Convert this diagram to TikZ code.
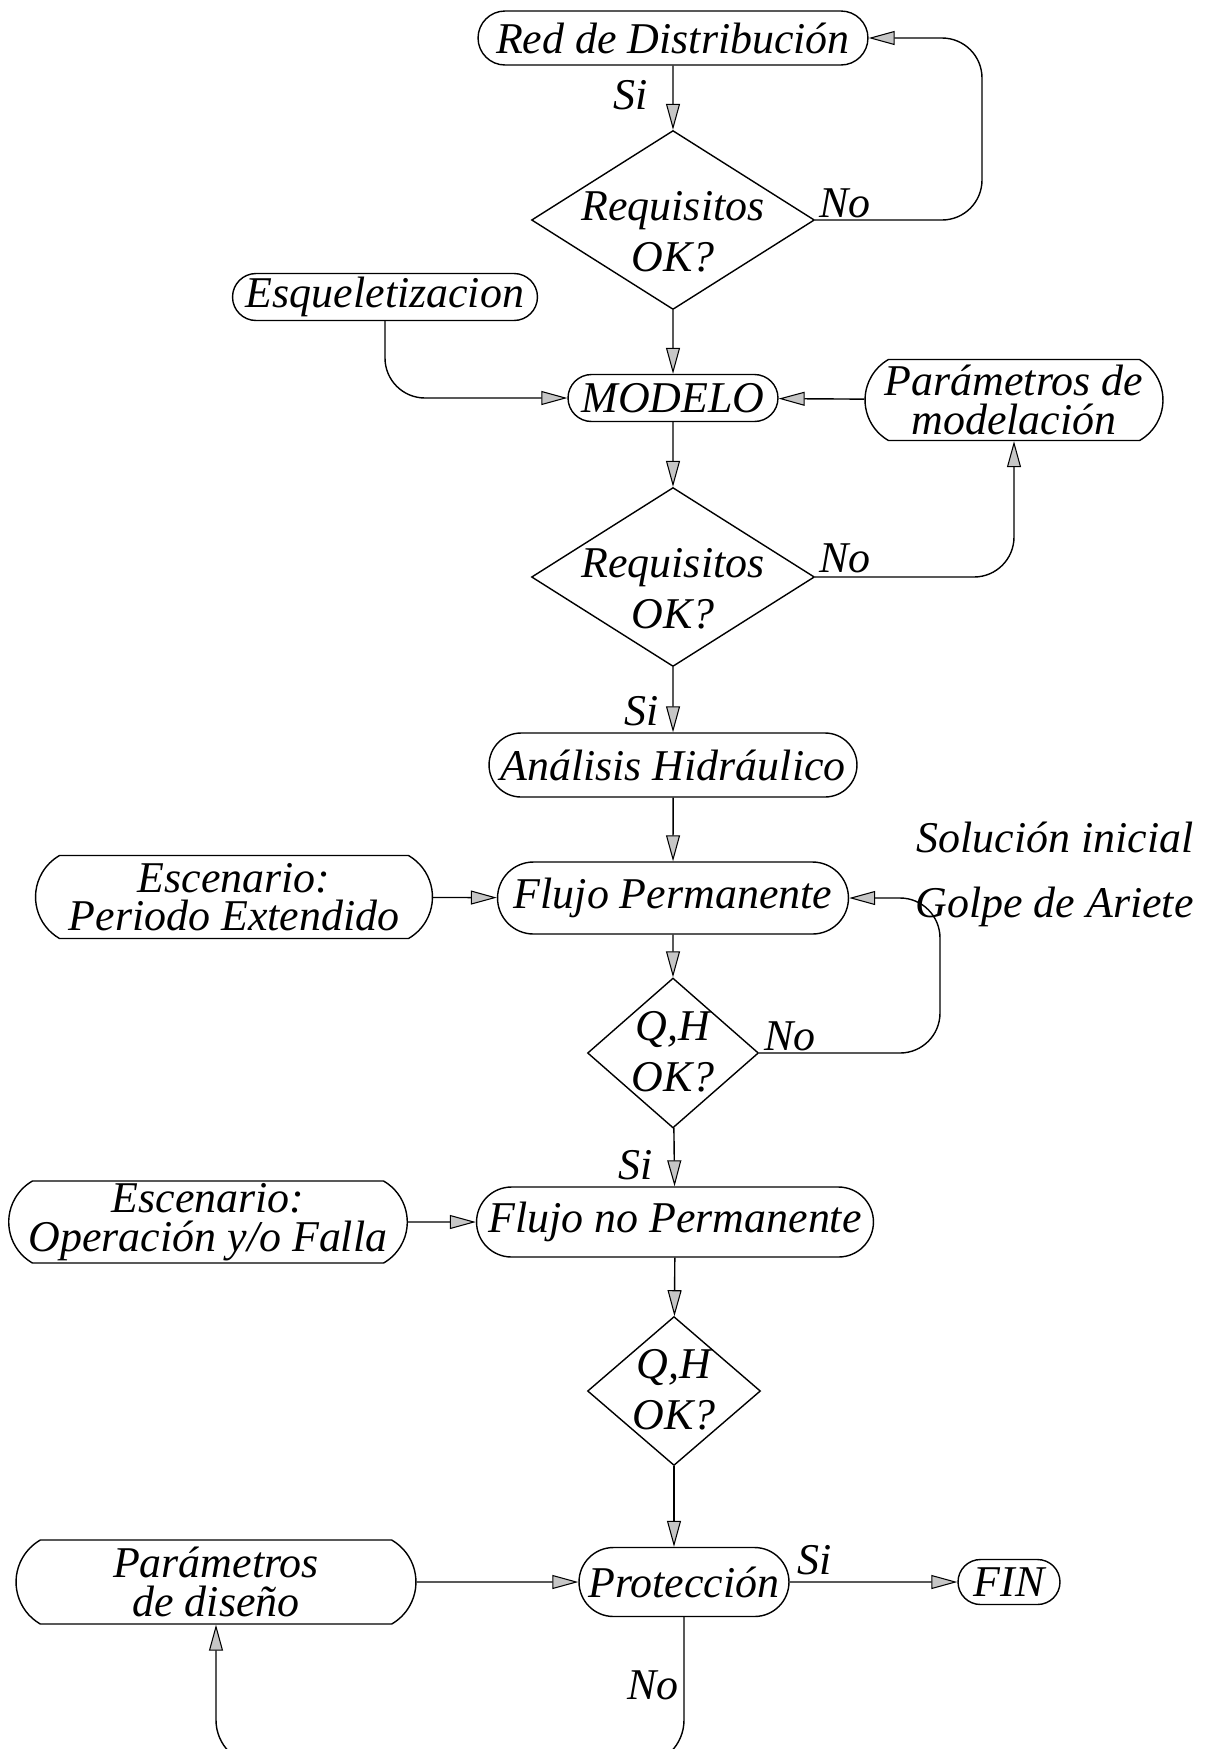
\documentclass[tikz,border=0pt]{standalone}
\usepackage{fontspec}
\setmainfont{Liberation Serif}
\usetikzlibrary{arrows.meta,shapes.geometric,shapes.misc}
\begin{document}
\begin{tikzpicture}[x=0.02cm,y=-0.02cm,
  every node/.style={font=\fontsize{25}{22}\selectfont\itshape, align=center},
  pill/.style={draw, line width=0.8pt, rounded rectangle, inner sep=0pt},
  wide/.style={pill, rounded rectangle arc length=120},
  decision/.style={draw, line width=0.8pt, diamond, inner sep=0pt, minimum width=5.66cm, minimum height=3.58cm},
  smalldec/.style={draw, line width=0.8pt, diamond, inner sep=0pt},
  dtext/.style={font=\fontsize{25}{29}\selectfont\itshape},
  tag/.style={inner sep=0pt},
  flow/.style={line width=0.8pt, -{Triangle[length=0.52cm,width=0.28cm,fill=gray!45,line width=0.6pt]}},
  loop/.style={flow, rounded corners=0.8cm},
]
\useasboundingbox (0,0) rectangle (1213,1749);

% main column
\node[pill, minimum width=7.8cm, minimum height=1.08cm] (red) at (673,38) {Red de Distribución};
\node[decision] (d1) at (673,220) {};
\node[dtext] (d1t) at (673,232) {Requisitos\\OK?};
\node[pill, minimum width=6.1cm, minimum height=0.94cm] (esq) at (385,297) {Esqueletizacion};
\node[pill, minimum width=4.2cm, minimum height=0.94cm] (modelo) at (673,398) {MODELO};
\node[wide, minimum width=5.96cm, minimum height=1.62cm] (pmod) at (1014,400) {Parámetros de\\modelación};
\node[decision] (d2) at (673,577) {};
\node[dtext] (d2t) at (673,589) {Requisitos\\OK?};
\node[pill, minimum width=7.36cm, minimum height=1.28cm] (ana) at (673,765) {Análisis Hidráulico};
\node[pill, minimum width=7.02cm, minimum height=1.44cm] (fp) at (673,898) {Flujo Permanente};
\node[wide, minimum width=7.94cm, minimum height=1.66cm] (esc1) at (234,897) {Escenario:\\Periodo Extendido};
\node[smalldec, minimum width=3.42cm, minimum height=3.0cm] (d3) at (673,1053) {};
\node[dtext] (d3t) at (673,1052) {Q,H\\OK?};
\node[pill, minimum width=7.94cm, minimum height=1.4cm] (fnp) at (675,1222) {Flujo no Permanente};
\node[wide, minimum width=7.96cm, minimum height=1.64cm] (esc2) at (208,1222) {Escenario:\\Operación y/o Falla};
\node[smalldec, minimum width=3.46cm, minimum height=2.98cm] (d4) at (674,1391) {};
\node[dtext] (d4t) at (674,1390) {Q,H\\OK?};
\node[pill, minimum width=4.2cm, minimum height=1.38cm] (prot) at (684,1582) {Protección};
\node[pill, minimum width=2.04cm, minimum height=0.9cm] (fin) at (1009,1582) {FIN};
\node[wide, minimum width=8.0cm, minimum height=1.68cm] (pdis) at (216,1582) {Parámetros\\de diseño};

% side notes
\node[tag, anchor=east] (sol) at (1194,837) {Solución inicial};
\node[tag, anchor=east] (golpe) at (1194,907) {Golpe de Ariete};

% branch labels
\node[tag] (l1) at (631,95) {Si};
\node[tag] (l2) at (845,203) {No};
\node[tag] (l3) at (845,558) {No};
\node[tag] (l4) at (642,711) {Si};
\node[tag] (l5) at (790,1036) {No};
\node[tag] (l6) at (636,1165) {Si};
\node[tag] (l7) at (815,1560) {Si};
\node[tag] (l8) at (653,1685) {No};

% connectors
\draw[flow] (red) -- (d1);
\draw[loop] (d1.east) -| (982,38) -- (red.east);
\draw[flow] (d1) -- (modelo);
\draw[loop] (esq.south) |- (modelo.west);
\draw[flow] (pmod) -- (modelo);
\draw[flow] (modelo) -- (d2);
\draw[loop] (d2.east) -| (pmod.south);
\draw[flow] (d2) -- (ana);
\draw[flow] (ana) -- (fp);
\draw[flow] (esc1) -- (fp);
\draw[flow] (fp) -- (d3);
\draw[loop] (d3.east) -| (940,898) -- (fp.east);
\draw[flow] (d3) -- (fnp);
\draw[flow] (esc2) -- (fnp);
\draw[flow] (fnp) -- (d4);
\draw[flow] (d4.south) -- (d4.south |- prot.north);
\draw[flow] (prot) -- (fin);
\draw[flow] (pdis) -- (prot);
\begin{scope}
\clip (0,0) rectangle (1213,1749);
\draw[loop, rounded corners=0.9cm] (prot.south) -- (684,1765) -| (pdis.south);
\end{scope}
\end{tikzpicture}
\end{document}
